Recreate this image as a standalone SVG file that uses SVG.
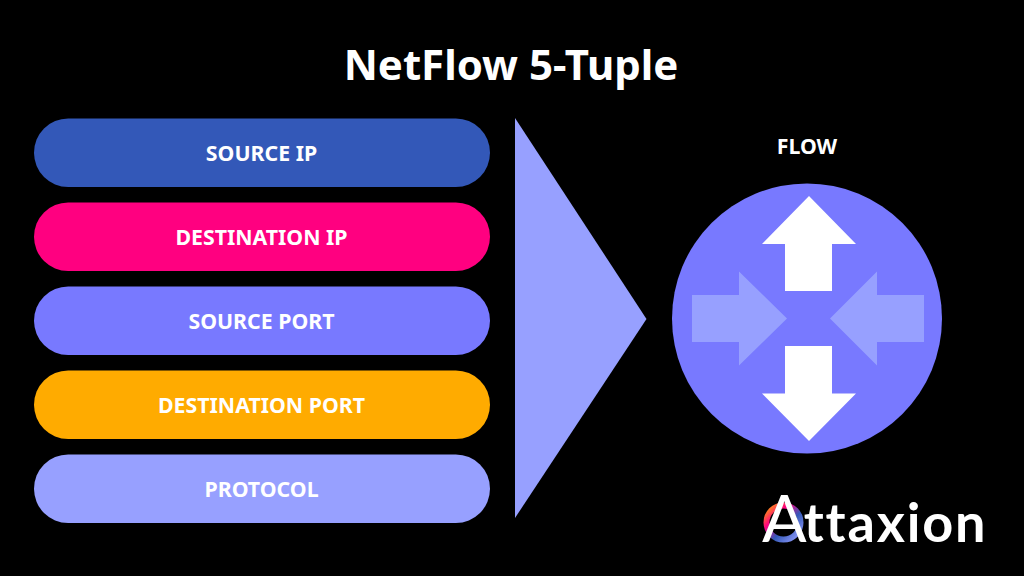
<svg xmlns="http://www.w3.org/2000/svg" width="1024" height="576" viewBox="0 0 1024 576">
<style>
text{font-family:"Noto Sans","Open Sans",sans-serif;font-weight:700;fill:#fff;text-anchor:middle}
.t{font-size:21.300px}
.logo{font-family:"Lato","Noto Sans",sans-serif;font-weight:700;text-anchor:start}
</style>
<defs>
<linearGradient id="ring" x1="0" y1="0" x2="1" y2="1">
<stop offset="0" stop-color="#ffab00"/><stop offset="0.3" stop-color="#ff0080"/><stop offset="0.6" stop-color="#3358b8"/><stop offset="1" stop-color="#97a0ff"/>
</linearGradient>
</defs>
<rect width="1024" height="576" fill="#000"/>
<text id="title" x="511" y="80" font-size="42">NetFlow 5-Tuple</text>
<g id="source-ip"><rect x="34" y="118.500" width="456" height="68.500" rx="34.200" fill="#3358b8"/><text class="t" x="261.500" y="160.500">SOURCE IP</text></g>
<g id="destination-ip"><rect x="34" y="202.500" width="456" height="68.500" rx="34.200" fill="#ff0080"/><text class="t" x="261.500" y="244.500">DESTINATION IP</text></g>
<g id="source-port"><rect x="34" y="286.500" width="456" height="68.500" rx="34.200" fill="#7879ff"/><text class="t" x="261.500" y="328.500">SOURCE PORT</text></g>
<g id="destination-port"><rect x="34" y="370.500" width="456" height="68.500" rx="34.200" fill="#ffab00"/><text class="t" x="261.500" y="412.500">DESTINATION PORT</text></g>
<g id="protocol"><rect x="34" y="454.500" width="456" height="68.500" rx="34.200" fill="#97a0ff"/><text class="t" x="261.500" y="496.500">PROTOCOL</text></g>
<g id="funnel"><polygon points="515,118 646.500,319 515,518" fill="#97a0ff"/></g>
<g id="flow">
<text x="807" y="154" font-size="21.300">FLOW</text>
<circle cx="807" cy="318.500" r="135" fill="#7879ff"/>
<polygon points="809,196 856,244 832,244 832,291 785,291 785,244 762,244" fill="#fff"/>
<polygon points="809,441 856,393.500 832,393.500 832,346 785,346 785,393.500 762,393.500" fill="#fff"/>
<polygon points="692,295 739,295 739,271.500 787,318.500 739,365.500 739,342 692,342" fill="#97a0ff"/>
<polygon points="924,295 877,295 877,271.500 830,318.500 877,365.500 877,342 924,342" fill="#97a0ff"/>
</g>
<g id="logo">
<circle cx="783.500" cy="522.500" r="17" fill="none" stroke="url(#ring)" stroke-width="6"/>
<text class="logo" x="762" y="542" font-size="54"><tspan font-size="66" font-weight="400">A</tspan><tspan dx="-3" letter-spacing="1.800">ttaxion</tspan></text>
</g>
</svg>
